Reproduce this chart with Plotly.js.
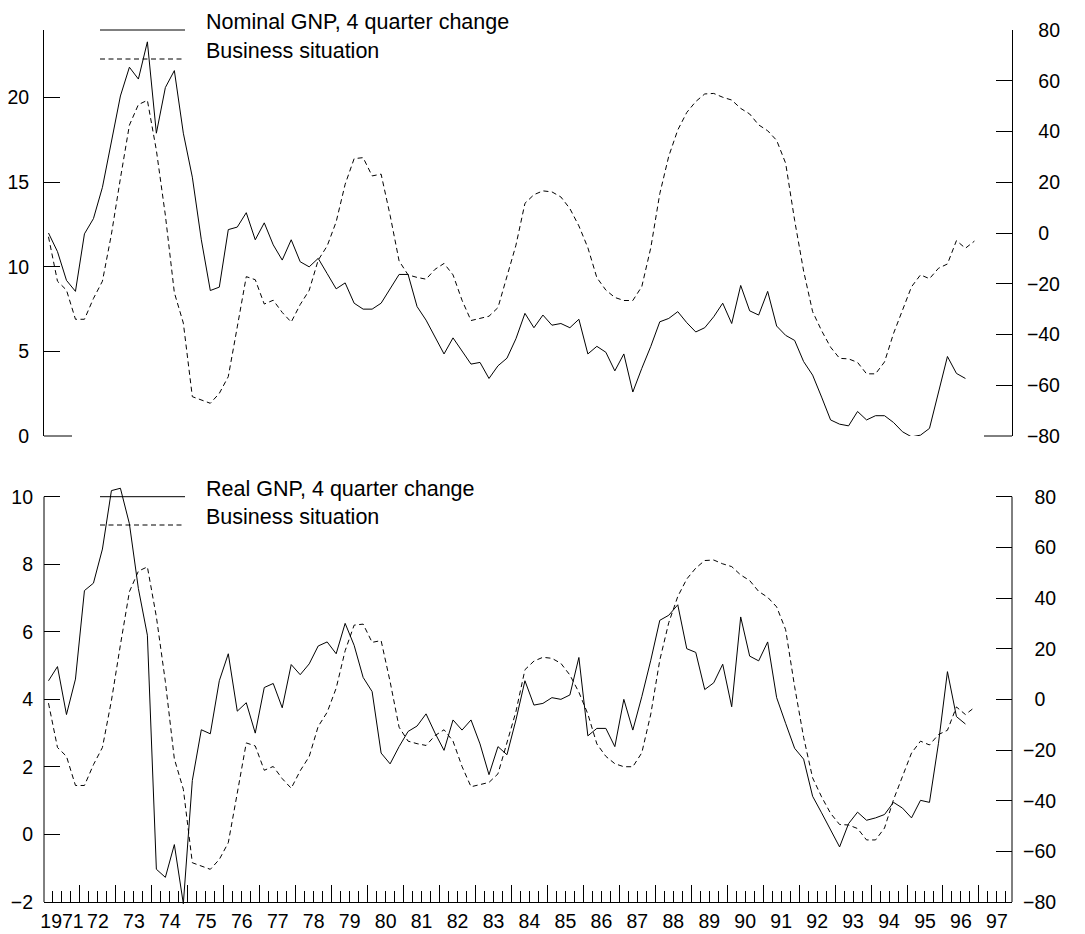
<!DOCTYPE html>
<html>
<head>
<meta charset="utf-8">
<script src="https://cdn.plot.ly/plotly-3.0.1.min.js"></script>
<style>
  html, body { margin: 0; padding: 0; background: #fff; }
  #chart { width: 1085px; height: 934px; }
</style>
</head>
<body>
<div id="chart"></div>
<script>
// ---- Data (quarterly, first observation = 1971 Q1) ----
const startYear = 1971;

// Nominal GNP, 4 quarter change (%), 1971Q1 .. 1996Q3
const nominalGNP = [
  12.0, 10.9, 9.2, 8.55, 11.95, 12.85, 14.7, 17.5, 20.1, 21.8,
  21.1, 23.3, 17.9, 20.6, 21.6, 17.9, 15.3, 11.6, 8.6, 8.8,
  12.2, 12.35, 13.2, 11.6, 12.6, 11.3, 10.4, 11.6, 10.3, 10.0,
  10.5, 9.6, 8.7, 9.05, 7.85, 7.5, 7.5, 7.85, 8.7, 9.55,
  9.55, 7.65, 6.85, 5.85, 4.85, 5.8, 5.05, 4.25, 4.35, 3.4,
  4.15, 4.6, 5.75, 7.25, 6.4, 7.15, 6.55, 6.65, 6.4, 6.9,
  4.85, 5.3, 4.95, 3.85, 4.85, 2.6, 4.0, 5.3, 6.75, 6.95,
  7.35, 6.7, 6.15, 6.4, 7.05, 7.85, 6.65, 8.9, 7.4, 7.15,
  8.55, 6.5, 5.95, 5.65, 4.4, 3.6, 2.3, 0.95, 0.7, 0.6,
  1.45, 0.95, 1.2, 1.2, 0.8, 0.25, -0.05, 0.05, 0.45, 2.55,
  4.7, 3.7, 3.4
];

// Real GNP, 4 quarter change (%), 1971Q1 .. 1996Q3
const realGNP = [
  4.55, 4.97, 3.55, 4.6, 7.22, 7.44, 8.45, 10.18, 10.25, 9.2,
  7.28, 5.9, -1.03, -1.27, -0.3, -2.05, 1.6, 3.1, 2.98, 4.55,
  5.35, 3.65, 3.9, 3.0, 4.35, 4.47, 3.75, 5.03, 4.73, 5.05,
  5.58, 5.7, 5.35, 6.25, 5.6, 4.65, 4.23, 2.41, 2.09, 2.6,
  3.05, 3.21, 3.57, 3.0, 2.49, 3.39, 3.09, 3.39, 2.68, 1.77,
  2.6, 2.36, 3.39, 4.55, 3.83, 3.88, 4.05, 4.0, 4.13, 5.24,
  2.92, 3.14, 3.14, 2.6, 4.0, 3.09, 4.08, 5.16, 6.34, 6.49,
  6.8, 5.5, 5.39, 4.29, 4.49, 5.04, 3.78, 6.44, 5.28, 5.14,
  5.7, 4.05, 3.29, 2.55, 2.23, 1.13, 0.64, 0.12, -0.37, 0.32,
  0.66, 0.42, 0.49, 0.59, 0.95, 0.78, 0.49, 1.01, 0.95, 2.7,
  4.82, 3.49, 3.27
];

// Business situation (balance), 1971Q1 .. 1996Q4
const businessSituation = [
  -1.5, -19, -22.5, -34, -34, -25.8, -19, -0.5, 21.5, 42.5,
  50.6, 52.3, 32.6, 7, -23.5, -35.5, -64.5, -65.8, -67.1, -63.2,
  -56.6, -37, -17.2, -18.4, -28, -26.5, -31.3, -35.1, -28.2, -22.6,
  -10.7, -5.1, 4.4, 19.2, 29.3, 29.7, 22.5, 23.2, 7, -11,
  -16.5, -17.5, -18.2, -14.3, -12, -16.5, -26.5, -34.5, -33.6, -32.8,
  -29.4, -16.6, -4.8, 11.7, 15.1, 16.6, 16.2, 14.2, 9.6, 2.8,
  -5.8, -17.6, -22.5, -25.4, -26.6, -26.6, -21.1, -5.8, 15.5, 30.3,
  40.6, 47.5, 51.8, 54.8, 55.0, 53.5, 52.4, 49.1, 46.9, 42.6,
  40.3, 36.5, 27.5, 5, -15, -31, -38.5, -45, -49.4, -49.6,
  -51, -55.5, -55.5, -50.8, -39.6, -30.4, -21.2, -16.5, -18, -13.9,
  -12.2, -3, -6, -3.2
];

// x-axis year ticks and labels
const yearTicks = [1971,1972,1973,1974,1975,1976,1977,1978,1979,1980,1981,1982,1983,
  1984,1985,1986,1987,1988,1989,1990,1991,1992,1993,1994,1995,1996,1997];
const yearLabels = ['1971','72','73','74','75','76','77','78','79','80','81','82','83',
  '84','85','86','87','88','89','90','91','92','93','94','95','96','97'];

const nominalTicks = [0, 5, 10, 15, 20];
const realTicks = [-2, 0, 2, 4, 6, 8, 10];
const businessTicks = [-80, -60, -40, -20, 0, 20, 40, 60, 80];

const topLegend = ['Nominal GNP, 4 quarter change', 'Business situation'];
const bottomLegend = ['Real GNP, 4 quarter change', 'Business situation'];

// ---- helpers ----
function quarterX(n) { // centre of each quarter
  const out = [];
  for (let i = 0; i < n; i++) out.push(startYear + (i + 0.5) / 4);
  return out;
}
// right-hand labels: minus sign hangs to the left of the digits
function rightText(v) {
  return v < 0 ? '\u2212' + Math.abs(v)
               : '<span style="color:rgba(255,255,255,0)">\u2212</span>' + v;
}

const W = 1085, H = 934;
const M = { l: 44, r: 73, t: 30, b: 28 };
const PW = W - M.l - M.r, PH = H - M.t - M.b;
const px = x => (x - M.l) / PW;          // pixel -> paper x
const py = y => (H - M.b - y) / PH;      // pixel -> paper y

// panel geometry in pixels
const TOP_Y0 = 30, TOP_Y1 = 436;          // top panel: 24 .. 0
const BOT_V10 = 496.7, BOT_VM2 = 902;     // bottom panel: y of 10 and of -2
const BOT_CLIP_TOP = 486, BOT_CLIP_BOT = 906;
const realPerPx = 12 / (BOT_VM2 - BOT_V10);
const realRange = [-2 - (BOT_CLIP_BOT - BOT_VM2) * realPerPx, 10 + (BOT_V10 - BOT_CLIP_TOP) * realPerPx];
const toBus = v => (v - 4) * 160 / 12;    // -2..10  <->  -80..80
const busRange = [toBus(realRange[0]), toBus(realRange[1])];

const FONT = 'Liberation Sans, Arial, Helvetica, sans-serif';
const tickFont = { family: FONT, size: 19.5, color: '#000' };
const legFont = { family: FONT, size: 21.5, color: '#000' };
const DASH = '5px,3.5px';

const solid = { color: '#000', width: 1 };
const dashed = { color: '#000', width: 1, dash: DASH };

const traces = [
  { x: quarterX(nominalGNP.length), y: nominalGNP, xaxis: 'x2', yaxis: 'y3',
    type: 'scatter', mode: 'lines', line: solid, name: topLegend[0] },
  { x: quarterX(businessSituation.length), y: businessSituation, xaxis: 'x2', yaxis: 'y4',
    type: 'scatter', mode: 'lines', line: dashed, name: topLegend[1] },
  { x: quarterX(realGNP.length), y: realGNP, xaxis: 'x', yaxis: 'y',
    type: 'scatter', mode: 'lines', line: solid, name: bottomLegend[0] },
  { x: quarterX(businessSituation.length), y: businessSituation, xaxis: 'x', yaxis: 'y2',
    type: 'scatter', mode: 'lines', line: dashed, name: bottomLegend[1] }
];

const xRange = [1971, 1997.92];

const yBase = {
  ticks: 'inside', ticklen: 16, tickwidth: 1, tickcolor: '#000',
  showgrid: false, zeroline: false, tickfont: tickFont, fixedrange: true
};

const layout = {
  width: W, height: H,
  margin: M,
  paper_bgcolor: '#fff', plot_bgcolor: '#fff',
  showlegend: false,
  font: { family: FONT, color: '#000' },
  xaxis: {
    domain: [0, 1], range: xRange, anchor: 'free', position: py(BOT_VM2),
    showline: true, linecolor: '#000', linewidth: 1,
    tickmode: 'array', tickvals: yearTicks, ticktext: yearLabels,
    ticks: 'inside', ticklen: 17, tickwidth: 1, tickcolor: '#000',
    ticklabelshift: 18, ticklabelstandoff: 2,
    minor: { tickmode: 'linear', tick0: 1971, dtick: 0.25, ticks: 'inside',
             ticklen: 11, tickwidth: 1, tickcolor: '#000', showgrid: false },
    showgrid: false, zeroline: false, tickfont: tickFont
  },
  xaxis2: { domain: [0, 1], range: xRange, anchor: 'y3', visible: false },
  yaxis: Object.assign({}, yBase, {
    domain: [py(BOT_CLIP_BOT), py(BOT_CLIP_TOP)], range: realRange, anchor: 'x',
    showline: false, tickmode: 'array', tickvals: realTicks, ticklabelstandoff: 10
  }),
  yaxis2: Object.assign({}, yBase, {
    overlaying: 'y', side: 'right', anchor: 'x', range: busRange, showline: false,
    tickmode: 'array', tickvals: businessTicks, ticktext: businessTicks.map(rightText),
    ticklabelstandoff: 10
  }),
  yaxis3: Object.assign({}, yBase, {
    domain: [py(TOP_Y1), py(TOP_Y0)], range: [0, 24], anchor: 'x2',
    showline: true, linecolor: '#000', linewidth: 1,
    tickmode: 'array', tickvals: nominalTicks, ticklabelstandoff: 10
  }),
  yaxis4: Object.assign({}, yBase, {
    overlaying: 'y3', side: 'right', anchor: 'x2', range: [-80, 80],
    showline: true, linecolor: '#000', linewidth: 1,
    tickmode: 'array', tickvals: businessTicks, ticktext: businessTicks.map(rightText),
    ticklabelstandoff: 10
  }),
  shapes: [
    // lower-panel vertical axis lines (from -2 to 10 / -80 to 80)
    { type: 'line', xref: 'paper', yref: 'paper', x0: 0, x1: 0, y0: py(BOT_VM2), y1: py(BOT_V10), line: solid },
    { type: 'line', xref: 'paper', yref: 'paper', x0: 1, x1: 1, y0: py(BOT_VM2), y1: py(BOT_V10), line: solid },
    // longer bottom stubs of the upper panel
    { type: 'line', xref: 'paper', yref: 'paper', x0: px(44), x1: px(72), y0: py(TOP_Y1), y1: py(TOP_Y1), line: solid },
    { type: 'line', xref: 'paper', yref: 'paper', x0: px(984), x1: px(1012), y0: py(TOP_Y1), y1: py(TOP_Y1), line: solid },
    // legend keys
    { type: 'line', xref: 'paper', yref: 'paper', x0: px(100), x1: px(185), y0: py(30), y1: py(30), line: solid },
    { type: 'line', xref: 'paper', yref: 'paper', x0: px(100), x1: px(185), y0: py(59), y1: py(59), line: dashed },
    { type: 'line', xref: 'paper', yref: 'paper', x0: px(100), x1: px(185), y0: py(496.7), y1: py(496.7), line: solid },
    { type: 'line', xref: 'paper', yref: 'paper', x0: px(100), x1: px(185), y0: py(525), y1: py(525), line: dashed }
  ],
  annotations: [
    { text: topLegend[0], xref: 'paper', yref: 'paper', x: px(204), y: py(22), xanchor: 'left', yanchor: 'middle', showarrow: false, font: legFont },
    { text: topLegend[1], xref: 'paper', yref: 'paper', x: px(204), y: py(51), xanchor: 'left', yanchor: 'middle', showarrow: false, font: legFont },
    { text: bottomLegend[0], xref: 'paper', yref: 'paper', x: px(204), y: py(488.5), xanchor: 'left', yanchor: 'middle', showarrow: false, font: legFont },
    { text: bottomLegend[1], xref: 'paper', yref: 'paper', x: px(204), y: py(517), xanchor: 'left', yanchor: 'middle', showarrow: false, font: legFont }
  ]
};

Plotly.newPlot('chart', traces, layout, { displayModeBar: false, staticPlot: true });
</script>
</body>
</html>
